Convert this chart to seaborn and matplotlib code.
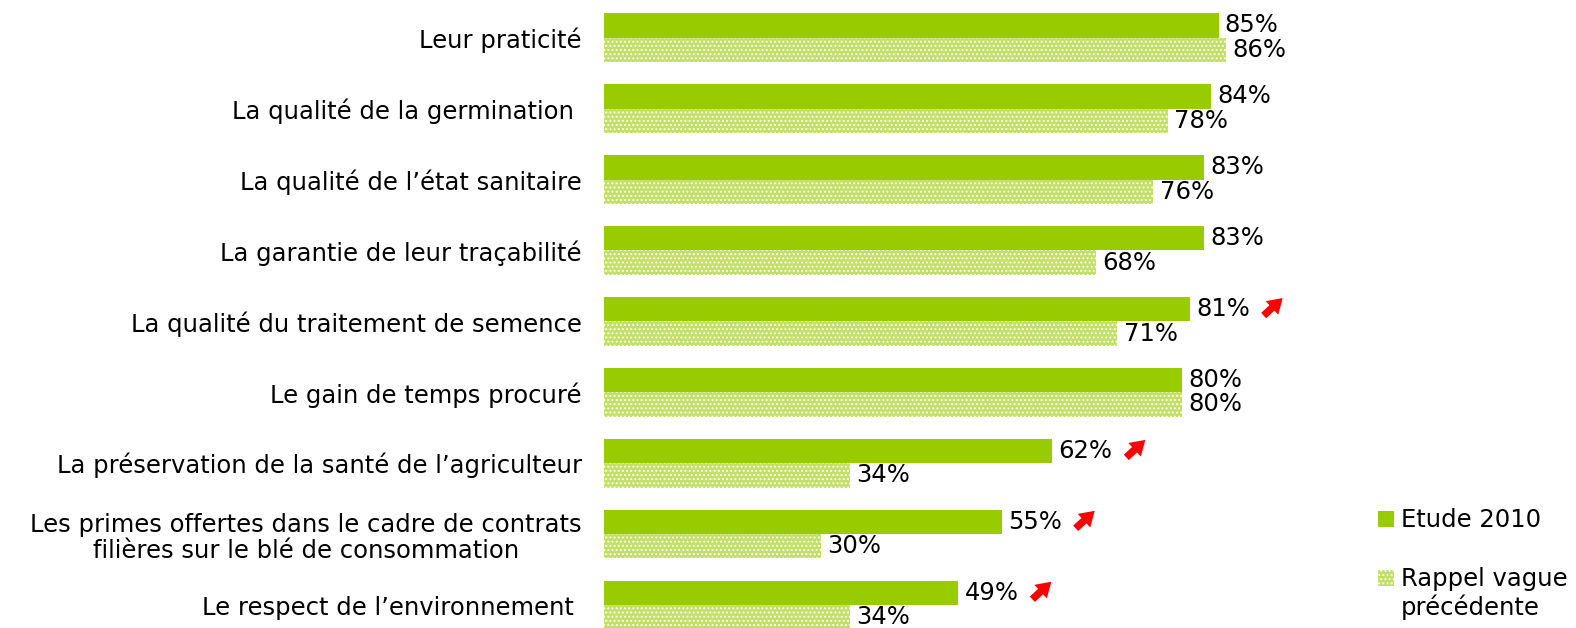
import matplotlib
matplotlib.use("Agg")
import matplotlib.pyplot as plt
import matplotlib.transforms as mtrans
from matplotlib.patches import Rectangle
import seaborn as sns
import pandas as pd

categories = [
    "Leur praticité",
    "La qualité de la germination ",
    "La qualité de l’état sanitaire",
    "La garantie de leur traçabilité",
    "La qualité du traitement de semence",
    "Le gain de temps procuré",
    "La préservation de la santé de l’agriculteur",
    "Les primes offertes dans le cadre de contrats\nfilières sur le blé de consommation",
    "Le respect de l’environnement ",
]
etude_2010 = [85, 84, 83, 83, 81, 80, 62, 55, 49]
rappel = [86, 78, 76, 68, 71, 80, 34, 30, 34]
hausse = [False, False, False, False, True, False, True, True, True]
series = ["Etude 2010", "Rappel vague\nprécédente"]

SOLID = "#99CC00"
LIGHT = "#C2E065"

sns.set_theme(style="white")
plt.rcParams["font.family"] = ["DejaVu Sans"]
plt.rcParams["hatch.linewidth"] = 0.9
plt.rcParams["text.color"] = "black"

df = pd.DataFrame({
    "cat": categories * 2,
    "val": etude_2010 + rappel,
    "serie": [series[0]] * len(categories) + [series[1]] * len(categories),
})

W, H = 1576, 628
fig = plt.figure(figsize=(W / 100, H / 100), dpi=100)
ax = fig.add_axes([604 / W, 0.0, 723 / W, (H - 2.2) / H])
sns.barplot(data=df, y="cat", x="val", hue="serie", orient="h", width=0.686,
            palette=[SOLID, LIGHT], saturation=1, legend=False, ax=ax,
            order=categories, hue_order=series)

for p in ax.containers[1].patches:
    p.set_hatch("....")
    p.set_edgecolor("white")
    p.set_linewidth(0)
for p in ax.containers[0].patches:
    p.set_linewidth(0)

ax.set_xlim(0, 100)
ax.set_ylim(8.324, -0.5)
ax.set_xlabel("")
ax.set_ylabel("")
ax.set_xticks([])
for s in ax.spines.values():
    s.set_visible(False)
fs = 17.5
ax.tick_params(axis="y", length=0, pad=16, labelsize=fs, labelcolor="black")
for lbl in ax.get_yticklabels():
    lbl.set_multialignment("center")
    lbl.set_linespacing(1.15)

for cont, vals in zip(ax.containers, [etude_2010, rappel]):
    for p, v in zip(cont.patches, vals):
        y = p.get_y() + p.get_height() / 2
        ax.annotate(f"{v}%", xy=(v, y), xytext=(4.5, 0), textcoords="offset points",
                    ha="left", va="center", fontsize=fs, color="black")

for p, v, up in zip(ax.containers[0].patches, etude_2010, hausse):
    if up:
        y = p.get_y() + p.get_height() / 2
        tip = mtrans.offset_copy(ax.transData, fig=fig, x=67, y=8, units="points")
        ax.annotate("", xy=(v, y), xycoords=tip, xytext=(-13.7, -12.6),
                    textcoords="offset points",
                    arrowprops=dict(arrowstyle="simple,head_length=0.75,head_width=0.95,tail_width=0.38",
                                    color="#FF0000", mutation_scale=14, shrinkA=0, shrinkB=0,
                                    linewidth=0))

# legend (drawn manually so the square sits beside the first line of its label)
leg_items = [(series[0], 519, 527, SOLID, None), (series[1], 578, 615, LIGHT, "....")]
for txt, yc, ybase, col, hatch in leg_items:
    r = Rectangle((1378 / W, (H - yc - 8) / H), 16 / W, 16 / H, transform=fig.transFigure,
                  facecolor=col, edgecolor="white" if hatch else col, linewidth=0, hatch=hatch)
    fig.patches.append(r)
    fig.text(1401 / W, (H - ybase) / H, txt, ha="left", va="baseline",
             fontsize=fs, color="black", linespacing=1.15)

fig.savefig("out.png", dpi=100)
